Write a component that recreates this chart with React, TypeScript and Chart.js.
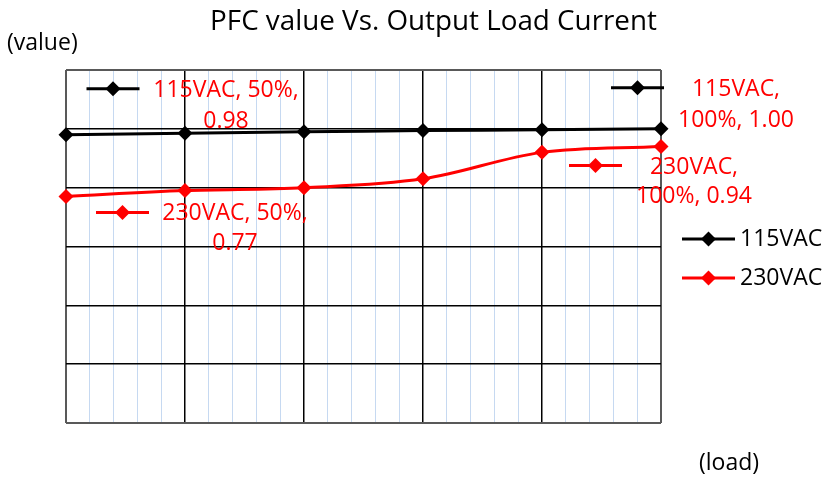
import React, { useEffect, useRef } from 'react';
import { Chart, registerables } from 'chart.js';

Chart.register(...registerables);

// ---- data ----
const categories = ['50%', '60%', '70%', '80%', '90%', '100%'];
const seriesNames = ['115VAC', '230VAC'];
const values115 = [0.98, 0.985, 0.99, 0.994, 0.997, 1.0];
const values230 = [0.77, 0.79, 0.8, 0.83, 0.92, 0.94];
const seriesColors = ['#000000', '#FF0000'];
const titleText = 'PFC value Vs. Output Load Current';
const yAxisLabel = '(value)';
const xAxisLabel = '(load)';
const yMin = 0;
const yMax = 1.2;
const yStep = 0.2;
const xMinorStep = 0.2;

const FONT = '"Open Sans", sans-serif';
const LABEL_RED = '#FF0000';

// data-label placement (offsets from the data point, in px) and line split
const labelSpecs = [
  { ds: 0, i: 0, key: [47, -46], tx: 160, ly: [-44, -13], split: 2 },
  { ds: 0, i: 5, key: [-23.5, -41], tx: 75, ly: [-39, -8], split: 1 },
  { ds: 1, i: 5, key: [-65.5, 19], tx: 33, ly: [21, 50], split: 1 },
  { ds: 1, i: 0, key: [56.5, 16], tx: 169, ly: [17, 47], split: 2 },
];

function drawKey(ctx: CanvasRenderingContext2D, cx: number, cy: number, color: string) {
  ctx.save();
  ctx.strokeStyle = color;
  ctx.lineWidth = 3;
  ctx.beginPath();
  ctx.moveTo(cx - 26.5, cy);
  ctx.lineTo(cx + 26.5, cy);
  ctx.stroke();
  ctx.fillStyle = color;
  const r = 7.5;
  ctx.beginPath();
  ctx.moveTo(cx - r, cy);
  ctx.lineTo(cx, cy - r);
  ctx.lineTo(cx + r, cy);
  ctx.lineTo(cx, cy + r);
  ctx.closePath();
  ctx.fill();
  ctx.restore();
}

const annotPlugin = {
  id: 'annot',
  afterDatasetsDraw(chart: any) {
    const ctx: CanvasRenderingContext2D = chart.ctx;
    const area = chart.chartArea;
    ctx.save();
    // data labels
    ctx.font = `23px ${FONT}`;
    ctx.textAlign = 'center';
    ctx.textBaseline = 'middle';
    for (const s of labelSpecs) {
      const meta = chart.getDatasetMeta(s.ds);
      const pt = meta.data[s.i];
      const vals = s.ds === 0 ? values115 : values230;
      const parts = [seriesNames[s.ds], categories[s.i], vals[s.i].toFixed(2)];
      const l1 = parts.slice(0, s.split).join(', ') + ',';
      const l2 = parts.slice(s.split).join(', ');
      drawKey(ctx, pt.x + s.key[0], pt.y + s.key[1], seriesColors[s.ds]);
      ctx.fillStyle = LABEL_RED;
      ctx.fillText(l1, pt.x + s.tx, pt.y + s.ly[0]);
      ctx.fillText(l2, pt.x + s.tx, pt.y + s.ly[1]);
    }
    // legend
    ctx.textAlign = 'left';
    ctx.font = `23px ${FONT}`;
    seriesNames.forEach((name, k) => {
      const y = 239 + k * 39;
      drawKey(ctx, area.right + 47.5, y, seriesColors[k]);
      ctx.fillStyle = '#000000';
      ctx.fillText(name, area.right + 79, y);
    });
    // title & axis labels
    ctx.fillStyle = '#000000';
    ctx.textAlign = 'center';
    ctx.font = `27.8px ${FONT}`;
    ctx.fillText(titleText, 433.5, 22.5);
    ctx.textAlign = 'left';
    ctx.font = `23px ${FONT}`;
    ctx.fillText(yAxisLabel, 7, 43);
    ctx.fillText(xAxisLabel, 699, 463);
    ctx.restore();
  },
};

const isMajor = (v: number) => Math.abs(v - Math.round(v)) < 1e-6;

export default function App() {
  const ref = useRef<HTMLCanvasElement | null>(null);
  useEffect(() => {
    if (!ref.current) return;
    const chart = new Chart(ref.current, {
      type: 'line',
      data: {
        datasets: [values115, values230].map((vals, k) => ({
          label: seriesNames[k],
          data: vals.map((y, i) => ({ x: i, y })),
          borderColor: seriesColors[k],
          backgroundColor: seriesColors[k],
          borderWidth: 3,
          pointStyle: 'rectRot',
          pointRadius: 7.5,
          pointBorderWidth: 0,
          tension: 0.35,
          clip: false as any,
        })),
      },
      options: {
        animation: false,
        responsive: false,
        layout: { padding: { left: 66, right: 165, top: 70, bottom: 56 } },
        plugins: { legend: { display: false }, title: { display: false }, tooltip: { enabled: false } },
        scales: {
          x: {
            type: 'linear',
            min: 0,
            max: categories.length - 1,
            ticks: { display: false, stepSize: xMinorStep },
            border: { display: false },
            grid: {
              drawTicks: false,
              color: (c: any) => {
                const v = c.tick.value;
                if (v === 0 || Math.abs(v - (categories.length - 1)) < 1e-6) return '#595959';
                return isMajor(v) ? '#000000' : '#C6D9F1';
              },
              lineWidth: (c: any) => {
                const v = c.tick.value;
                if (v === 0 || Math.abs(v - (categories.length - 1)) < 1e-6) return 2;
                return isMajor(v) ? 1.5 : 1;
              },
            },
          },
          y: {
            min: yMin,
            max: yMax,
            ticks: { display: false, stepSize: yStep },
            border: { display: false },
            grid: {
              drawTicks: false,
              color: (c: any) => {
                const v = c.tick.value;
                if (Math.abs(v - yMin) < 1e-6 || Math.abs(v - yMax) < 1e-6) return '#595959';
                return '#000000';
              },
              lineWidth: (c: any) => {
                const v = c.tick.value;
                if (Math.abs(v - yMin) < 1e-6 || Math.abs(v - yMax) < 1e-6) return 2;
                return 1.5;
              },
            },
          },
        },
      },
      plugins: [annotPlugin],
    });
    return () => chart.destroy();
  }, []);
  return (
    <div style={{ position: 'absolute', left: 0, top: 0, width: 826, height: 479, background: '#ffffff' }}>
      <canvas ref={ref} width={826} height={479} style={{ display: 'block' }} />
    </div>
  );
}
